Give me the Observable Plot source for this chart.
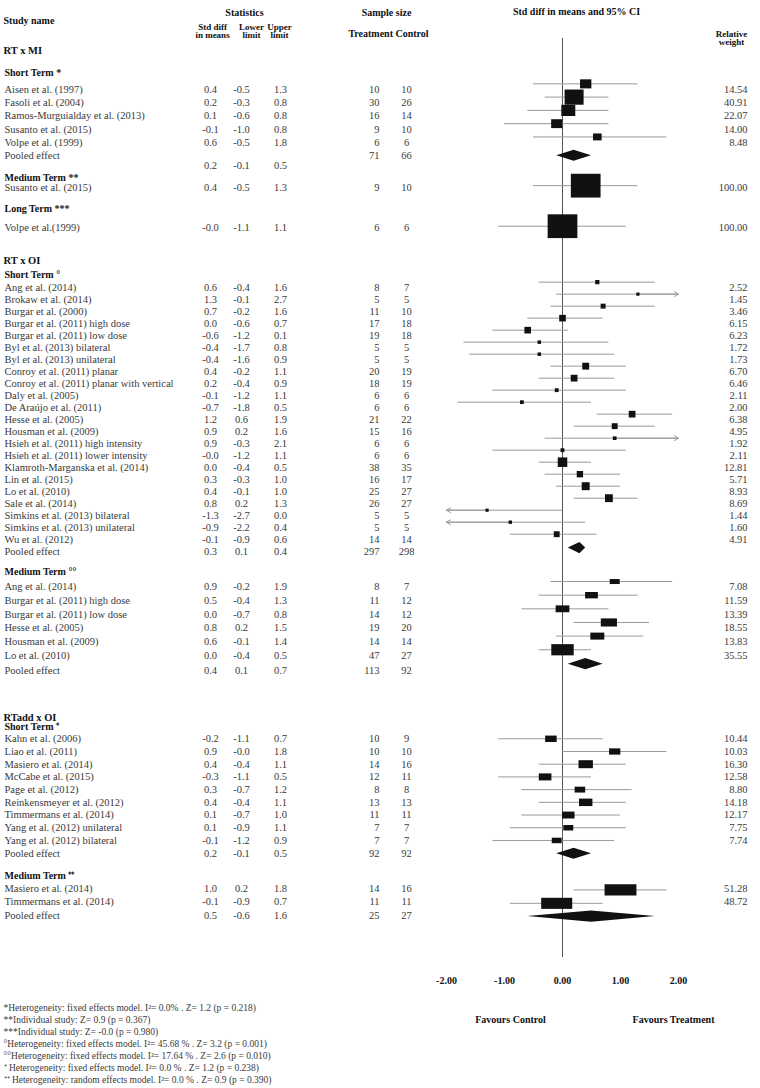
<!DOCTYPE html>
<html><head><meta charset="utf-8">
<script src="https://cdn.jsdelivr.net/npm/d3@7"></script>
<script src="https://cdn.jsdelivr.net/npm/@observablehq/plot@0.6"></script>
<style>body{margin:0;background:#fff}</style>
</head><body><div id="chart"></div>
<script>
// ---- data: [study, std diff, lower, upper, n treatment, n control, relative weight]
const miShort = [
  ["Aisen et al. (1997)", 0.4, -0.5, 1.3, 10, 10, 14.54],
  ["Fasoli et al. (2004)", 0.2, -0.3, 0.8, 30, 26, 40.91],
  ["Ramos-Murguialday et al. (2013)", 0.1, -0.6, 0.8, 16, 14, 22.07],
  ["Susanto et al. (2015)", -0.1, -1.0, 0.8, 9, 10, 14.00],
  ["Volpe et al. (1999)", 0.6, -0.5, 1.8, 6, 6, 8.48]
];
const miShortPooled = [0.2, -0.1, 0.5, 71, 66];
const miMedium = [["Susanto et al. (2015)", 0.4, -0.5, 1.3, 9, 10, 100.00]];
const miLong = [["Volpe et al.(1999)", -0.0, -1.1, 1.1, 6, 6, 100.00]];

const oiShort = [
  ["Ang et al. (2014)", 0.6, -0.4, 1.6, 8, 7, 2.52],
  ["Brokaw et al. (2014)", 1.3, -0.1, 2.7, 5, 5, 1.45],
  ["Burgar et al. (2000)", 0.7, -0.2, 1.6, 11, 10, 3.46],
  ["Burgar et al. (2011) high dose", 0.0, -0.6, 0.7, 17, 18, 6.15],
  ["Burgar et al. (2011) low dose", -0.6, -1.2, 0.1, 19, 18, 6.23],
  ["Byl et al. (2013) bilateral", -0.4, -1.7, 0.8, 5, 5, 1.72],
  ["Byl et al. (2013) unilateral", -0.4, -1.6, 0.9, 5, 5, 1.73],
  ["Conroy et al. (2011) planar", 0.4, -0.2, 1.1, 20, 19, 6.70],
  ["Conroy et al. (2011) planar with vertical", 0.2, -0.4, 0.9, 18, 19, 6.46],
  ["Daly et al. (2005)", -0.1, -1.2, 1.1, 6, 6, 2.11],
  ["De Araújo et al. (2011)", -0.7, -1.8, 0.5, 6, 6, 2.00],
  ["Hesse et al. (2005)", 1.2, 0.6, 1.9, 21, 22, 6.38],
  ["Housman et al. (2009)", 0.9, 0.2, 1.6, 15, 16, 4.95],
  ["Hsieh et al. (2011) high intensity", 0.9, -0.3, 2.1, 6, 6, 1.92],
  ["Hsieh et al. (2011) lower intensity", -0.0, -1.2, 1.1, 6, 6, 2.11],
  ["Klamroth-Marganska et al. (2014)", 0.0, -0.4, 0.5, 38, 35, 12.81],
  ["Lin et al. (2015)", 0.3, -0.3, 1.0, 16, 17, 5.71],
  ["Lo et al. (2010)", 0.4, -0.1, 1.0, 25, 27, 8.93],
  ["Sale et al. (2014)", 0.8, 0.2, 1.3, 26, 27, 8.69],
  ["Simkins et al. (2013) bilateral", -1.3, -2.7, 0.0, 5, 5, 1.44],
  ["Simkins et al. (2013) unilateral", -0.9, -2.2, 0.4, 5, 5, 1.60],
  ["Wu et al. (2012)", -0.1, -0.9, 0.6, 14, 14, 4.91]
];
const oiShortPooled = [0.3, 0.1, 0.4, 297, 298];
const oiMedium = [
  ["Ang et al. (2014)", 0.9, -0.2, 1.9, 8, 7, 7.08],
  ["Burgar et al. (2011) high dose", 0.5, -0.4, 1.3, 11, 12, 11.59],
  ["Burgar et al. (2011) low dose", 0.0, -0.7, 0.8, 14, 12, 13.39],
  ["Hesse et al. (2005)", 0.8, 0.2, 1.5, 19, 20, 18.55],
  ["Housman et al. (2009)", 0.6, -0.1, 1.4, 14, 14, 13.83],
  ["Lo et al. (2010)", 0.0, -0.4, 0.5, 47, 27, 35.55]
];
const oiMediumPooled = [0.4, 0.1, 0.7, 113, 92];

const addShort = [
  ["Kahn et al. (2006)", -0.2, -1.1, 0.7, 10, 9, 10.44],
  ["Liao et al. (2011)", 0.9, -0.0, 1.8, 10, 10, 10.03],
  ["Masiero et al. (2014)", 0.4, -0.4, 1.1, 14, 16, 16.30],
  ["McCabe et al. (2015)", -0.3, -1.1, 0.5, 12, 11, 12.58],
  ["Page et al. (2012)", 0.3, -0.7, 1.2, 8, 8, 8.80],
  ["Reinkensmeyer et al. (2012)", 0.4, -0.4, 1.1, 13, 13, 14.18],
  ["Timmermans et al. (2014)", 0.1, -0.7, 1.0, 11, 11, 12.17],
  ["Yang et al. (2012) unilateral", 0.1, -0.9, 1.1, 7, 7, 7.75],
  ["Yang et al. (2012) bilateral", -0.1, -1.2, 0.9, 7, 7, 7.74]
];
const addShortPooled = [0.2, -0.1, 0.5, 92, 92];
const addMedium = [
  ["Masiero et al. (2014)", 1.0, 0.2, 1.8, 14, 16, 51.28],
  ["Timmermans et al. (2014)", -0.1, -0.9, 0.7, 11, 11, 48.72]
];
const addMediumPooled = [0.5, -0.6, 1.6, 25, 27];

const xTicks = [-2, -1, 0, 1, 2];
const footnotes = [
  "*Heterogeneity: fixed effects model. I²= 0.0% . Z= 1.2 (p = 0.218)",
  "**Individual study: Z= 0.9 (p = 0.367)",
  "***Individual study: Z= -0.0 (p = 0.980)",
  "°Heterogeneity: fixed effects model. I²= 45.68 % . Z= 3.2 (p = 0.001)",
  "°°Heterogeneity: fixed effects model. I²= 17.64 % . Z= 2.6 (p = 0.010)",
  "⁺ Heterogeneity: fixed effects model. I²= 0.0 % . Z= 1.2 (p = 0.238)",
  "⁺⁺ Heterogeneity: random effects model. I²= 0.0 % . Z= 0.9 (p = 0.390)"
];

// ---- layout (row leads in line units)
const sections = [
  {title: "RT x MI", lead: 0, groups: [
    {title: "Short Term *", head: 1.77, first: 1.37, step: 1.07, pooledLead: 1.07, studies: miShort, pooled: miShortPooled, shape: "mi", gdy: -0.45, pdy: 0, sdy: 0.8},
    {title: "Medium Term **", head: 1.75, first: 0.81, step: 1, studies: miMedium, shape: "mi", gdy: -0.15},
    {title: "Long Term ***", head: 1.74, first: 1.48, step: 1, studies: miLong, shape: "mi", gdy: -0.1}
  ]},
  {title: "RT x OI", lead: 2.66, groups: [
    {title: "Short Term °", head: 1.13, first: 1.07, step: 0.968, pooledLead: 0.968, studies: oiShort, pooled: oiShortPooled, shape: "sq", gdy: -0.45, pdy: -0.3},
    {title: "Medium Term °°", head: 1.64, first: 1.21, step: 1.1, pooledLead: 1.21, studies: oiMedium, pooled: oiMediumPooled, shape: "oiM", gdy: -0.45, pdy: -0.5}
  ]},
  {title: "RTadd x OI", lead: 3.78, groups: [
    {title: "Short Term ⁺", head: 0.8, first: 0.94, step: 1.025, pooledLead: 1.07, studies: addShort, pooled: addShortPooled, shape: "addS", gdy: 0, pdy: 0},
    {title: "Medium Term ⁺⁺", head: 1.75, first: 1.07, step: 1.08, pooledLead: 1.07, studies: addMedium, pooled: addMediumPooled, shape: "addM", gdy: 0.1, pdy: 0.1}
  ]}
];

const rows = [];
let pos = 0;
sections.forEach(sec => {
  pos += sec.lead;
  rows.push({kind: "section", label: sec.title, y: pos});
  sec.groups.forEach(g => {
    pos += g.head;
    rows.push({kind: "group", label: g.title, y: pos});
    g.studies.forEach((s, i) => {
      pos += i === 0 ? g.first : g.step;
      rows.push({kind: "study", label: s[0], smd: s[1], lo: s[2], hi: s[3], nT: s[4], nC: s[5], w: s[6],
        y: pos, sy: pos, gy: pos + g.gdy, shape: g.shape});
    });
    if (g.pooled) {
      const p = g.pooled;
      pos += g.pooledLead;
      rows.push({kind: "pooled", label: "Pooled effect", smd: p[0], lo: p[1], hi: p[2], nT: p[3], nC: p[4],
        y: pos, sy: pos + (g.sdy || 0), gy: pos + g.pdy});
    }
  });
});

const studyRows = rows.filter(d => d.kind === "study");
const pooledRows = rows.filter(d => d.kind === "pooled");
const dataRows = rows.filter(d => d.kind === "study" || d.kind === "pooled");
const diamondPts = pooledRows.flatMap((p, i) => [
  {id: i, x: p.lo, y1: p.gy, y2: p.gy},
  {id: i, x: p.smd, y1: p.gy - 0.45, y2: p.gy + 0.45},
  {id: i, x: p.hi, y1: p.gy, y2: p.gy}
]);

const fmt1 = v => (v < 0 || Object.is(v, -0) ? "-" : "") + Math.abs(v).toFixed(1);
const rectSymbol = aspect => ({draw(ctx, size) {
  const h = Math.sqrt(size / aspect), w = h * aspect;
  ctx.rect(-w / 2, -h / 2, w, h);
}});
const shapes = {mi: rectSymbol(1.25), sq: rectSymbol(1), oiM: rectSymbol(2), addS: rectSymbol(1.8), addM: rectSymbol(2.8)};

const MT = 38, H = 1088, FB = 957;
const INK = "#111", TXT = "#3a3a3a", WHISK = "#9a9a9a";
const label = (txt, x, y, o = {}) => Plot.text([txt], {frameAnchor: "top-left", dx: x, dy: y - MT, text: d => d,
  fill: INK, fontWeight: "bold", fontSize: 10, textAnchor: "middle", ...o});
const col = (text, x, anchor, o = {}) => Plot.text(dataRows, {y: "sy", text, frameAnchor: "left", dx: x,
  textAnchor: anchor, fill: TXT, fontSize: 10.5, ...o});
const head2 = {fontSize: 9, lineHeight: 0.92};

const chart = Plot.plot({
  width: 760, height: H,
  marginTop: MT, marginBottom: H - FB, marginLeft: 0, marginRight: 0,
  style: {fontFamily: "'Liberation Serif','Times New Roman',serif", fontSize: "10.5px", background: "#fff", color: TXT},
  x: {domain: [-2, 2], range: [446, 678], axis: null},
  y: {domain: [0, 70], range: [50, 918], axis: null},
  r: {domain: [0, 100], range: [0, 15]},
  marks: [
    Plot.ruleX([0], {stroke: "#555", strokeWidth: 1}),
    Plot.ruleY(studyRows, {y: "gy", x1: d => Math.max(d.lo, -2), x2: d => Math.min(d.hi, 2), stroke: WHISK, strokeWidth: 1}),
    Plot.arrow(studyRows.filter(d => d.hi > 2), {x1: "smd", x2: () => 2, y1: "gy", y2: "gy", stroke: WHISK, strokeWidth: 1, headLength: 7}),
    Plot.arrow(studyRows.filter(d => d.lo < -2), {x1: "smd", x2: () => -2, y1: "gy", y2: "gy", stroke: WHISK, strokeWidth: 1, headLength: 7}),
    ...Object.entries(shapes).map(([k, sym]) =>
      Plot.dot(studyRows.filter(d => d.shape === k), {x: "smd", y: "gy", r: "w", symbol: sym, fill: INK, stroke: "none"})),
    Plot.areaY(diamondPts, {x: "x", y1: "y1", y2: "y2", z: "id", fill: INK}),

    // row labels
    Plot.text(rows.filter(d => d.kind === "section"), {y: "y", text: "label", frameAnchor: "left", dx: 3, textAnchor: "start", fill: INK, fontWeight: "bold", fontSize: 10.5}),
    Plot.text(rows.filter(d => d.kind === "group"), {y: "y", text: "label", frameAnchor: "left", dx: 4, textAnchor: "start", fill: INK, fontWeight: "bold", fontSize: 10}),
    Plot.text(dataRows, {y: "y", text: "label", frameAnchor: "left", dx: 4, textAnchor: "start", fill: TXT, fontSize: 10.5}),

    // numeric columns
    col(d => fmt1(d.smd), 210, "middle"),
    col(d => fmt1(d.lo), 241, "middle"),
    col(d => fmt1(d.hi), 280, "middle"),
    Plot.text(dataRows, {y: "y", text: "nT", frameAnchor: "left", dx: 379, textAnchor: "end", fill: TXT, fontSize: 10.5}),
    Plot.text(dataRows, {y: "y", text: "nC", frameAnchor: "left", dx: 406, textAnchor: "middle", fill: TXT, fontSize: 10.5}),
    Plot.text(studyRows, {y: "y", text: d => d.w.toFixed(2), frameAnchor: "left", dx: 747, textAnchor: "end", fill: TXT, fontSize: 10.5}),

    // header
    label("Study name", 3, 16, {textAnchor: "start"}),
    label("Statistics", 244, 8),
    label("Std diff\nin means", 212, 23.5, head2),
    label("Lower\nlimit", 251, 23.5, head2),
    label("Upper\nlimit", 279, 23.5, head2),
    label("Sample size", 386, 8),
    label("Treatment Control", 388, 29),
    label("Std diff in means and 95% CI", 576, 7),
    label("Relative\nweight", 731, 30.5, head2),

    // axis tick labels and direction labels
    Plot.text(xTicks, {x: d => d, frameAnchor: "bottom", dy: 26, text: d => d.toFixed(2), fill: INK, fontWeight: "bold", fontSize: 10}),
    label("Favours Control", 510, 1015),
    label("Favours Treatment", 673, 1015),

    // footnotes
    label(footnotes.join("\n"), 3, 1002, {textAnchor: "start", lineAnchor: "top", fontWeight: "normal", fill: TXT, fontSize: 9.5, lineHeight: 1.26})
  ]
});
document.getElementById("chart").append(chart);
</script></body></html>
